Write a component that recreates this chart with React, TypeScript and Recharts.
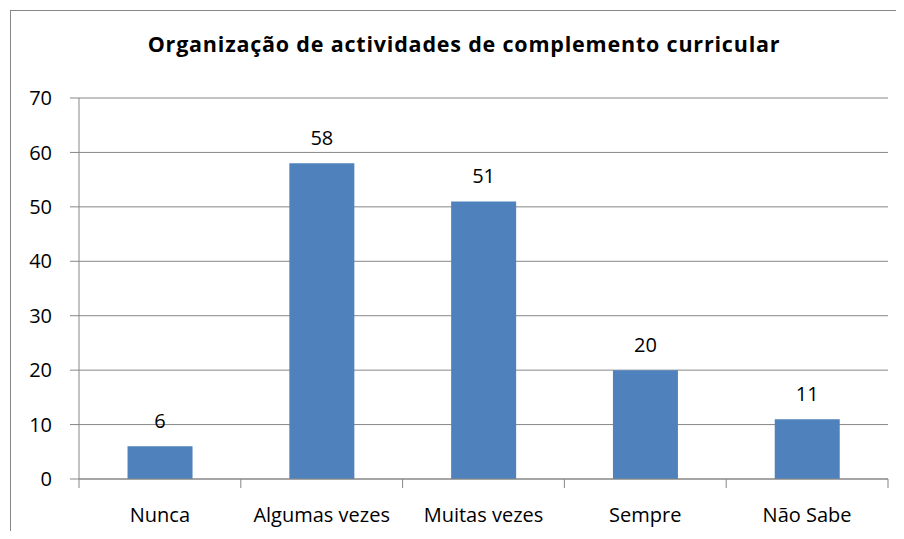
import React from "react";
import {
  BarChart,
  Bar,
  XAxis,
  YAxis,
  CartesianGrid,
  LabelList,
} from "recharts";

const categories = ["Nunca", "Algumas vezes", "Muitas vezes", "Sempre", "Não Sabe"];
const values = [6, 58, 51, 20, 11];
const yTicks = [0, 10, 20, 30, 40, 50, 60, 70];
const title = "Organização de actividades de complemento curricular";

const W = 904;
const H = 539;
const PLOT_LEFT = 79;
const PLOT_RIGHT = 888;
const GRID = "#878787";
const FONT = "'Open Sans', Lato, sans-serif";

const data = categories.map((name, i) => ({ name, value: values[i] }));

// category ticks: label in the centre, tick marks on the band edges (Excel style)
const XTick = (props: any) => {
  const { x, y, payload, index } = props;
  const band = (PLOT_RIGHT - PLOT_LEFT) / categories.length;
  const left = x - band / 2;
  const right = x + band / 2;
  return (
    <g>
      <line x1={left} x2={left} y1={y} y2={y + 9} stroke={GRID} />
      {index === categories.length - 1 && (
        <line x1={right} x2={right} y1={y} y2={y + 9} stroke={GRID} />
      )}
      <text
        x={x}
        y={y + 29}
        dy="0.71em"
        textAnchor="middle"
        fill="#000"
        style={{ fontSize: 20, fontFamily: FONT }}
      >
        {payload.value}
      </text>
    </g>
  );
};

export default function App() {
  return (
    <div
      style={{
        position: "relative",
        margin: -8,
        width: W,
        height: H,
        overflow: "hidden",
        background: "#fff",
      }}
    >
      {/* chart frame: only the top and left edges fall inside the picture */}
      <div
        style={{
          position: "absolute",
          left: 10,
          top: 10,
          width: 1000,
          height: 1000,
          borderLeft: `1px solid ${GRID}`,
          borderTop: `1px solid ${GRID}`,
        }}
      />
      <div
        style={{
          position: "absolute",
          left: 0,
          width: 928,
          top: 29,
          textAlign: "center",
          fontFamily: FONT,
          fontWeight: "bold",
          fontSize: 21.5,
          letterSpacing: 0.8,
          color: "#000",
        }}
      >
        {title}
      </div>
      <div style={{ position: "absolute", left: 0, top: 0 }}>
        <BarChart
          width={W}
          height={H}
          data={data}
          margin={{ top: 98, right: W - PLOT_RIGHT, bottom: 10, left: 0 }}
          barCategoryGap="30%"
        >
          <CartesianGrid vertical={false} stroke={GRID} />
          <XAxis
            dataKey="name"
            height={50}
            tickSize={0}
            tickMargin={0}
            tickLine={false}
            axisLine={{ stroke: GRID }}
            tick={<XTick />}
            interval={0}
          />
          <YAxis
            width={PLOT_LEFT}
            domain={[0, 70]}
            ticks={yTicks}
            interval={0}
            tickSize={9}
            tickMargin={18}
            tickLine={{ stroke: GRID }}
            axisLine={{ stroke: GRID }}
            tick={{ fill: "#000", fontSize: 20, fontFamily: FONT }}
          />
          <Bar dataKey="value" fill="#4F81BD" isAnimationActive={false}>
            <LabelList
              dataKey="value"
              position="top"
              offset={18}
              style={{ fontSize: 20, fontFamily: FONT, fill: "#000" }}
            />
          </Bar>
        </BarChart>
      </div>
    </div>
  );
}
